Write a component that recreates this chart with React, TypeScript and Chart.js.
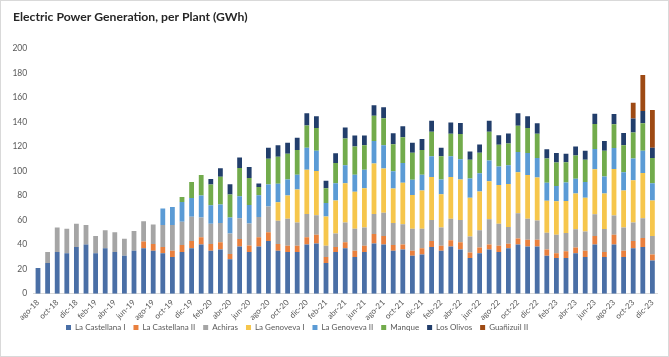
import React, { useEffect, useRef } from "react";
import { Chart, registerables } from "chart.js";

Chart.register(...registerables);

const labels = [
  "ago-18", "sep-18", "oct-18", "nov-18", "dic-18",
  "ene-19", "feb-19", "mar-19", "abr-19", "may-19", "jun-19", "jul-19", "ago-19", "sep-19", "oct-19", "nov-19", "dic-19",
  "ene-20", "feb-20", "mar-20", "abr-20", "may-20", "jun-20", "jul-20", "ago-20", "sep-20", "oct-20", "nov-20", "dic-20",
  "ene-21", "feb-21", "mar-21", "abr-21", "may-21", "jun-21", "jul-21", "ago-21", "sep-21", "oct-21", "nov-21", "dic-21",
  "ene-22", "feb-22", "mar-22", "abr-22", "may-22", "jun-22", "jul-22", "ago-22", "sep-22", "oct-22", "nov-22", "dic-22",
  "ene-23", "feb-23", "mar-23", "abr-23", "may-23", "jun-23", "jul-23", "ago-23", "sep-23", "oct-23", "nov-23", "dic-23",
];

const castellanaI = [
  21, 25, 34, 33, 38,
  40, 33, 37, 34, 31, 35, 37, 35, 33, 30, 34, 37,
  40, 35, 36, 28, 38.5, 34, 38.5, 43, 35, 34, 34, 40,
  41, 25, 34, 37, 30, 34, 41, 40, 35, 36, 31, 32,
  38, 35, 38.5, 36, 29, 33, 36, 34, 37, 40, 38.5, 38.5,
  31, 29, 29, 33, 30, 40, 30, 40, 30, 37, 38, 27,
];
const castellanaII = [
  0, 0, 0, 0, 0,
  0, 0, 0, 0, 0, 0, 5.6, 5.4, 5, 5, 5.7, 6,
  6, 5.4, 6, 4.4, 6, 5.3, 7.4, 7, 5.5, 5, 5, 6,
  7, 5, 4, 5, 5, 5, 7.6, 7, 4.7, 4, 4, 5,
  5, 4, 5, 6, 4.6, 4.6, 4, 5, 3.6, 5, 5.5, 5.5,
  5, 4, 5.5, 4.6, 5, 7, 4, 8, 5, 6, 7.4, 5,
];
const achiras = [
  0, 9, 20, 20, 19,
  16, 14, 14.6, 16, 13.7, 16, 16.4, 16, 18, 21, 19, 19.6,
  16, 16.6, 15.7, 16.7, 17, 18, 16.5, 21, 19, 22, 19, 19,
  16, 9, 11, 16, 18, 15, 16.4, 19, 18, 16.5, 18, 16,
  17, 15, 17.5, 18, 13, 14, 20.6, 18, 13.7, 20.5, 17, 15.6,
  13.7, 15, 15, 15, 15.6, 17.8, 18.7, 15.7, 19, 15, 16, 15,
];
const genovevaI = [
  0, 0, 0, 0, 0,
  0, 0, 0, 0, 0, 0, 0, 0, 0, 0, 0, 0,
  0, 0, 0, 0, 0, 0, 0, 0, 15, 19, 27, 36,
  36, 24, 27, 32, 30, 32, 41, 36, 28, 34, 27.5, 31,
  35, 27, 34, 33, 31.5, 31.6, 31, 31.6, 35, 33.5, 35.7, 35,
  26, 27.4, 26, 29, 27.5, 36.6, 29, 38, 30, 34.4, 37, 29,
];
const genovevaII = [
  0, 0, 0, 0, 0,
  0, 0, 0, 0, 0, 0, 0, 0, 13.5, 14.6, 16, 15.4,
  18, 15, 15, 13, 18, 15, 17.8, 18, 15, 13, 12, 18,
  16.5, 11, 14, 14.6, 14, 15, 18.4, 19, 14, 16, 12.4, 13,
  17, 12, 17, 16.5, 15.7, 15, 17, 15, 15.4, 16.5, 18, 16,
  14.6, 12.4, 15.2, 12, 13, 16.4, 13.7, 17, 15, 17.8, 18, 14,
];
const manque = [
  0, 0, 0, 0, 0,
  0, 0, 0, 0, 0, 0, 0, 0, 0, 0, 4, 13,
  16.7, 17, 22.6, 18.7, 23, 22, 6.8, 21, 22, 21, 20, 18,
  18.6, 12, 16.5, 21.8, 23, 20, 20.6, 22, 22, 21, 22, 20,
  20, 19, 18.4, 20.6, 15.4, 16.6, 23.4, 17.8, 17.6, 21.4, 20.4, 19.8,
  19.8, 19.2, 16.5, 19, 18, 20.4, 21, 19.3, 22, 21.2, 22.5, 20.6,
];
const losOlivos = [
  0, 0, 0, 0, 0,
  0, 0, 0, 0, 0, 0, 0, 0, 0, 0, 0, 0,
  0, 4.4, 7, 8.3, 8.5, 9, 2.8, 9, 9.5, 9, 10, 10,
  9.4, 6, 8, 9, 9, 8, 8.5, 9, 9, 9, 8, 9,
  9, 7, 9, 9, 6.6, 6.8, 9, 7.7, 8.2, 10.2, 9.5, 8.5,
  7.6, 7.7, 6.9, 7.4, 7.4, 8.5, 8, 8.5, 10, 11.3, 10, 8.3,
];
const guanizuilII = [
  0, 0, 0, 0, 0,
  0, 0, 0, 0, 0, 0, 0, 0, 0, 0, 0, 0,
  0, 0, 0, 0, 0, 0, 0, 0, 0, 0, 0, 0,
  0, 0, 0, 0, 0, 0, 0, 0, 0, 0, 0, 0,
  0, 0, 0, 0, 0, 0, 0, 0, 0, 0, 0, 0,
  0, 0, 0, 0, 0, 0, 0, 0, 0, 12.9, 29.3, 30.8,
];

const seriesNames = [
  "La Castellana I", "La Castellana II", "Achiras", "La Genoveva I",
  "La Genoveva II", "Manque", "Los Olivos", "Guañizuil II",
];
const seriesData = [castellanaI, castellanaII, achiras, genovevaI, genovevaII, manque, losOlivos, guanizuilII];
const seriesColors = ["#4a6fa6", "#e9803e", "#a5a5a5", "#f6c64c", "#5b9bd5", "#72ab4c", "#223e6b", "#9e4a14"];

const yTicksMax = 200;
const yTicksStep = 20;

const FONT = "Lato, 'Open Sans', sans-serif";
const TITLE_LEFT = 13;
const LEGEND_START_X = 66;
const LEGEND_TOP = 315.5;

const blockPlacer = {
  id: "blockPlacer",
  afterLayout(chart: any) {
    const tb: any = chart.titleBlock;
    if (tb) tb.left = TITLE_LEFT;
    const lg: any = chart.legend;
    if (!lg || !lg.lineWidths) return;
    const pad = lg.options.labels.padding;
    const natural = (lg.left + pad + lg.right - lg.lineWidths[0]) / 2;
    const d = LEGEND_START_X - natural;
    lg.left += d;
    lg.right += d;
    const dy = LEGEND_TOP - lg.top;
    lg.top += dy;
    lg.bottom += dy;
  },
};

export default function App() {
  const ref = useRef<HTMLCanvasElement>(null);
  useEffect(() => {
    document.body.style.margin = "0";
    const canvas = ref.current;
    if (!canvas) return;
    const chart = new Chart(canvas, {
      type: "bar",
      data: {
        labels,
        datasets: seriesNames.map((name, i) => ({
          label: name,
          data: seriesData[i],
          backgroundColor: seriesColors[i],
          borderWidth: 0,
          categoryPercentage: 1,
          barPercentage: 0.5,
        })),
      },
      plugins: [blockPlacer],
      options: {
        responsive: false,
        animation: false,
        devicePixelRatio: 1,
        layout: { padding: { top: 0, left: 0, right: 11.8, bottom: 7.3 } },
        plugins: {
          title: {
            display: true,
            text: "Electric Power Generation, per Plant (GWh)",
            align: "start",
            color: "#262626",
            font: { family: FONT, size: 12.2, weight: "bold" },
            padding: { top: 10, bottom: 23.6 },
          },
          legend: {
            position: "bottom",
            labels: {
              boxWidth: 5,
              boxHeight: 5,
              padding: 8,
              color: "#595959",
              font: { family: FONT, size: 8 },
            },
          },
          tooltip: { enabled: false },
        },
        scales: {
          x: {
            stacked: true,
            grid: { display: false, drawTicks: false, tickLength: 0 },
            border: { display: true, color: "#d9d9d9", width: 1 },
            ticks: {
              autoSkip: false,
              minRotation: 45,
              maxRotation: 45,
              padding: 4,
              color: "#595959",
              font: { family: FONT, size: 8 },
              callback: (_v: any, i: number) => (i % 2 === 0 ? labels[i] : ""),
            },
            afterFit: (s: any) => {
              s.height = 30;
            },
          },
          y: {
            stacked: true,
            min: 0,
            max: yTicksMax,
            grid: { display: false, drawTicks: false, tickLength: 0 },
            border: { display: false },
            ticks: {
              stepSize: yTicksStep,
              padding: 6,
              color: "#595959",
              font: { family: FONT, size: 8.5 },
            },
            afterFit: (s: any) => {
              s.width = 33.2;
            },
          },
        },
      },
    } as any);
    return () => chart.destroy();
  }, []);
  return (
    <div style={{ position: "relative", width: 669, height: 357, background: "#fff" }}>
      <canvas ref={ref} width={669} height={357} style={{ display: "block", width: 669, height: 357 }} />
      <div
        style={{
          position: "absolute",
          left: 0,
          top: 0,
          width: 669,
          height: 357,
          boxSizing: "border-box",
          border: "1px solid #d9d9d9",
          pointerEvents: "none",
        }}
      />
    </div>
  );
}
